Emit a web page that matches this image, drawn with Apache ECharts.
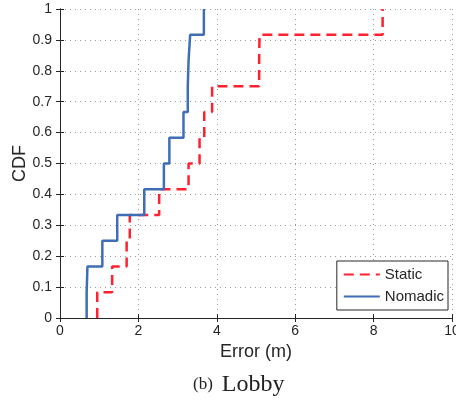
<!DOCTYPE html>
<html>
<head>
<meta charset="utf-8">
<script src="https://cdn.jsdelivr.net/npm/echarts@6/dist/echarts.min.js"></script>
<style>
  html, body { margin: 0; padding: 0; background: #fff; }
  #chart { width: 456px; height: 400px; }
</style>
</head>
<body>
<div id="chart"></div>
<script>
// sorted localisation errors (m), 12 samples each
const staticErrors = [0.95, 1.33, 1.70, 1.78, 2.53, 3.28, 3.56, 3.68, 3.88, 5.08, 5.09, 8.23]
const nomadicErrors = [0.68, 0.70, 1.08, 1.46, 2.15, 2.65, 2.79, 3.15, 3.26, 3.28, 3.32, 3.67]
const xTicks = [0, 2, 4, 6, 8, 10]
const yTicks = [0, 0.1, 0.2, 0.3, 0.4, 0.5, 0.6, 0.7, 0.8, 0.9, 1]

// empirical CDF points, first one sits on the x axis
const toCdf = (errs) => {
  const pts = [[errs[0], 0]]
  errs.forEach((e, i) => pts.push([e, (i + 1) / errs.length]))
  return pts
}

const chart = echarts.init(document.getElementById('chart'), null, { renderer: 'canvas' })

const sans = 'Liberation Sans, Arial, sans-serif'
const serif = 'Liberation Serif, Times New Roman, serif'
const labelFont = { color: '#262626', fontSize: 14, fontFamily: sans }
const gridLine = { show: true, lineStyle: { color: '#9a9a9a', type: [1, 4], width: 1 } }
const axisLine = { show: true, lineStyle: { color: '#262626', width: 1 } }
const tick = { inside: true, length: 4, lineStyle: { color: '#262626' } }

chart.setOption({
  animation: false,
  backgroundColor: '#fff',
  grid: { left: 60, right: 4, top: 9, bottom: 82, outerBoundsMode: 'none', containLabel: false },
  legend: {
    orient: 'vertical',
    right: 8,
    bottom: 90,
    itemWidth: 36,
    itemHeight: 10,
    itemGap: 7,
    padding: [6, 4, 6, 6],
    backgroundColor: '#fff',
    borderColor: '#262626',
    borderWidth: 1,
    borderRadius: 0,
    itemStyle: { opacity: 0 },
    textStyle: { color: '#262626', fontSize: 15, fontFamily: sans },
    data: ['Static', 'Nomadic']
  },
  xAxis: [{
    type: 'value', min: 0, max: 10, interval: 2,
    name: 'Error (m)', nameLocation: 'middle', nameGap: 23,
    nameTextStyle: { color: '#262626', fontSize: 18, fontFamily: sans },
    axisLine, axisTick: tick,
    axisLabel: { ...labelFont, margin: 6 },
    splitLine: gridLine
  }, {
    type: 'value', min: 0, max: 10, interval: 2, position: 'top',
    axisLine, axisTick: tick,
    axisLabel: { show: false }, splitLine: { show: false }
  }],
  yAxis: [{
    type: 'value', min: 0, max: 1, interval: 0.1,
    name: 'CDF', nameLocation: 'middle', nameGap: 31, nameRotate: 90,
    nameMoveOverlap: false,
    nameTextStyle: { color: '#262626', fontSize: 18, fontFamily: sans },
    axisLine, axisTick: tick,
    axisLabel: { ...labelFont, margin: 8, formatter: v => String(+v.toFixed(1)) },
    splitLine: gridLine
  }, {
    type: 'value', min: 0, max: 1, interval: 0.1, position: 'right',
    axisLine, axisTick: tick,
    axisLabel: { show: false }, splitLine: { show: false }
  }],
  series: [{
    name: 'Static',
    type: 'line',
    step: 'end',
    symbol: 'none',
    itemStyle: { color: '#ff2030' },
    lineStyle: { color: '#ff2030', width: 2.5, type: [10, 6] },
    data: toCdf(staticErrors),
    z: 2
  }, {
    name: 'Nomadic',
    type: 'line',
    step: 'end',
    symbol: 'none',
    itemStyle: { color: '#3f6db6' },
    lineStyle: { color: '#3f6db6', width: 2.5 },
    data: toCdf(nomadicErrors),
    z: 3
  }],
  graphic: [{
    type: 'text',
    left: 193,
    top: 373,
    style: {
      rich: {
        b: { fontSize: 17, fontFamily: serif, fill: '#222', padding: [0, 9, 0, 0] },
        l: { fontSize: 24, fontFamily: serif, fill: '#222' }
      },
      text: '{b|(b)}{l|Lobby}'
    }
  }]
})

window.addEventListener('resize', () => chart.resize())
</script>
</body>
</html>
